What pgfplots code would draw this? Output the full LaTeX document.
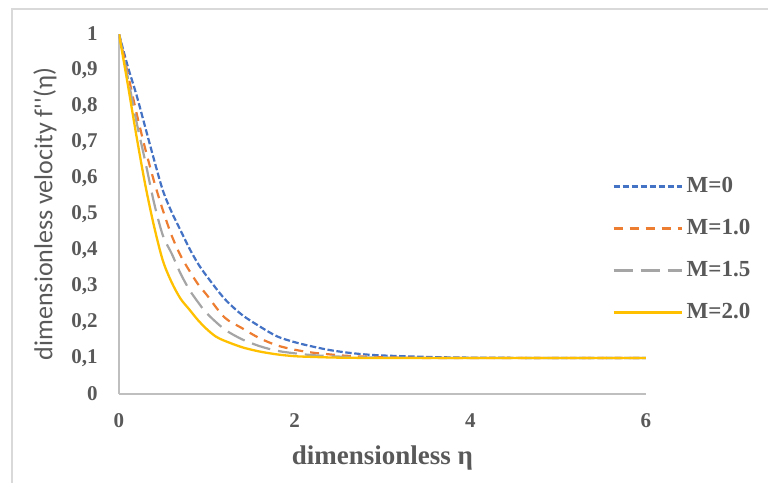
\documentclass[border=0pt]{standalone}
\usepackage{pgfplots}
\pgfplotsset{compat=1.18}
\usepackage{fontspec}
\setmainfont{Liberation Serif}
\newfontfamily\calibri{Carlito}
\definecolor{txt}{HTML}{595959}
\definecolor{axgray}{HTML}{BFBFBF}
\definecolor{frame}{HTML}{D9D9D9}
\definecolor{cBlue}{HTML}{4472C4}
\definecolor{cOrange}{HTML}{ED7D31}
\definecolor{cGray}{HTML}{A5A5A5}
\definecolor{cYellow}{HTML}{FFC000}

\begin{document}
\begin{tikzpicture}
\useasboundingbox (0,0) rectangle (384pt,241.5pt);
\draw[frame, line width=1pt] (6pt,0pt) -- (6pt,237pt) -- (384pt,237pt);
\begin{axis}[
  at={(59.5pt,44.5pt)}, anchor=south west,
  scale only axis, width=263.5pt, height=180pt,
  xmin=0, xmax=6, ymin=0, ymax=1,
  axis x line=bottom, axis y line=left,
  axis line style={axgray, line width=0.75pt, -},
  xtick={0,2,4,6}, ytick={0,0.1,...,1.01},
  major tick length=0pt,
  /pgf/number format/.cd, use comma, fixed, precision=1, assume math mode=true,
  /pgfplots/.cd,
  tick label style={font=\bfseries\fontsize{10.5}{12}\selectfont, text=txt},
  yticklabel style={anchor=east, inner sep=0pt, xshift=-10.5pt},
  xticklabel style={anchor=north, inner sep=0pt, yshift=-9.5pt},
  xlabel={dimensionless η},
  xlabel style={font=\bfseries\fontsize{13.5}{15}\selectfont, text=txt,
    at={(axis description cs:0.5,-0.178)}, anchor=center},
  ylabel={dimensionless velocity f''(η)},
  ylabel style={font=\calibri\fontsize{13}{15}\selectfont, text=txt,
    at={(axis description cs:-0.1404,0.5)}, anchor=center},
  legend image code/.code={\draw[#1] (0pt,0pt) -- (34pt,0pt);
    \path (36pt,0pt);},
  legend cell align=left,
  legend style={draw=none, fill=none, at={(0.9355,0.636)}, anchor=north west,
    inner sep=0pt, row sep=0pt,
    font=\bfseries\fontsize{11.5}{13}\selectfont, text=txt,
    nodes={inner sep=0pt, minimum height=21pt}},
]
\addplot[cBlue, line width=1.1pt, dash pattern=on 3.2pt off 1.3pt, smooth]
  coordinates {(0,1)(0.1,0.91)(0.2,0.83)(0.3,0.74)(0.4,0.65)(0.5,0.565)
    (0.6,0.505)(0.7,0.455)(0.8,0.405)(0.9,0.362)(1.0,0.327)(1.2,0.265)
    (1.4,0.22)(1.6,0.188)(1.8,0.16)(2.0,0.144)(2.2,0.132)(2.4,0.122)
    (2.6,0.115)(2.8,0.11)(3.0,0.107)(3.5,0.103)(4,0.101)(5,0.1)(6,0.1)};
\addlegendentry{M=0}
\addplot[cOrange, line width=1.1pt, dash pattern=on 4.5pt off 3.5pt, smooth]
  coordinates {(0,1)(0.1,0.89)(0.2,0.78)(0.3,0.68)(0.4,0.59)(0.5,0.51)
    (0.6,0.44)(0.7,0.385)(0.8,0.343)(0.9,0.305)(1.0,0.275)(1.2,0.213)
    (1.4,0.183)(1.6,0.155)(1.8,0.135)(2.0,0.123)(2.2,0.115)(2.4,0.11)
    (2.6,0.106)(3.0,0.102)(3.5,0.1)(4,0.1)(5,0.1)(6,0.1)};
\addlegendentry{M=1.0}
\addplot[cGray, line width=1.1pt, dash pattern=on 9.5pt off 4pt, smooth]
  coordinates {(0,1)(0.1,0.88)(0.2,0.755)(0.3,0.645)(0.4,0.53)(0.5,0.44)
    (0.6,0.39)(0.7,0.335)(0.8,0.29)(0.9,0.255)(1.0,0.224)(1.2,0.18)
    (1.4,0.152)(1.6,0.133)(1.8,0.12)(2.0,0.113)(2.2,0.108)(2.5,0.104)
    (3.0,0.101)(4,0.1)(5,0.1)(6,0.1)};
\addlegendentry{M=1.5}
\addplot[cYellow, line width=1.15pt, smooth]
  coordinates {(0,1)(0.1,0.86)(0.2,0.715)(0.3,0.58)(0.4,0.465)(0.5,0.37)
    (0.6,0.31)(0.7,0.265)(0.8,0.235)(0.9,0.205)(1.0,0.18)(1.1,0.16)
    (1.2,0.148)(1.4,0.13)(1.6,0.118)(1.8,0.11)(2.0,0.105)(2.2,0.103)
    (2.5,0.101)(3.0,0.1)(4,0.1)(5,0.1)(6,0.1)};
\addlegendentry{M=2.0}
\end{axis}
\end{tikzpicture}
\end{document}
